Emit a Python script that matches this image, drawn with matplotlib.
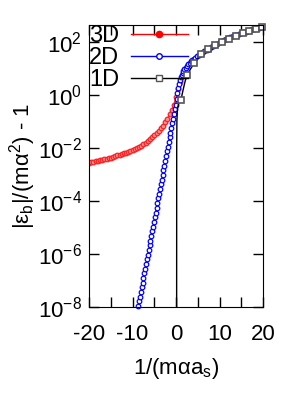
import numpy as np
import matplotlib
matplotlib.use('Agg')
import matplotlib.pyplot as plt

plt.rcParams['font.family'] = ['Liberation Sans', 'DejaVu Sans']
plt.rcParams['mathtext.fontset'] = 'custom'
plt.rcParams['mathtext.rm'] = 'Liberation Sans'
plt.rcParams['mathtext.it'] = 'Liberation Sans'
plt.rcParams['axes.unicode_minus'] = False

# 3D: x = 1/(m alpha a_s), values given as log10(|eb|/(m alpha^2) - 1)
x3d = np.arange(-20, 1.6, 0.5)
log3d = [-2.55, -2.53, -2.51, -2.49, -2.47, -2.45, -2.43, -2.41, -2.39, -2.37,
         -2.35, -2.325, -2.30, -2.27, -2.245, -2.22, -2.19, -2.16, -2.13, -2.10,
         -2.06, -2.02, -1.98, -1.94, -1.90, -1.85, -1.79, -1.72, -1.65, -1.58,
         -1.50, -1.42, -1.34, -1.25, -1.15, -1.02, -0.88, -0.72, -0.55, -0.35,
         -0.05, 0.25, 0.5, 0.72]

# 2D
x2d = [-8.7, -8.5, -8.3, -8.1, -7.9, -7.7, -7.5, -7.3, -7.1, -6.9, -6.7, -6.5,
       -6.3, -6.1, -5.9, -5.7, -5.5, -5.3, -5.1, -4.9, -4.7, -4.5, -4.3, -4.1,
       -3.9, -3.7, -3.5, -3.3, -3.1, -2.9, -2.7, -2.5, -2.3, -2.1, -1.9, -1.7,
       -1.5, -1.3, -1.1, -0.9, -0.7, -0.5, -0.3, -0.1,
       0.1, 0.3, 0.5, 0.7, 0.9, 1.1, 1.3, 1.5, 1.7, 1.9, 2.2, 2.5, 2.8, 3.1,
       3.4, 3.7, 4.0, 4.4, 4.8, 5.2, 5.6,
       6.0, 6.5, 7.0, 7.5, 8.0, 8.5, 9.0, 9.5, 10, 10.5, 11, 11.5, 12, 12.5,
       13, 13.5, 14, 14.5, 15, 15.5, 16, 16.5, 17, 17.5, 18, 18.5, 19, 19.5]
log2d = [-7.97, -7.79, -7.61, -7.43, -7.26, -7.08, -6.90, -6.73, -6.55, -6.37,
         -6.20, -6.02, -5.84, -5.66, -5.49, -5.31, -5.13, -4.96, -4.78, -4.60,
         -4.43, -4.25, -4.07, -3.89, -3.72, -3.54, -3.36, -3.19, -3.01, -2.83,
         -2.66, -2.48, -2.30, -2.12, -1.95, -1.77, -1.59, -1.42, -1.24, -1.06,
         -0.89, -0.71, -0.53, -0.35,
         -0.15, 0.08, 0.27, 0.44, 0.58, 0.69, 0.78, 0.86, 0.92, 0.98, 1.05,
         1.12, 1.18, 1.24, 1.29, 1.34, 1.38, 1.43, 1.48, 1.53, 1.57,
         1.60, 1.66, 1.72, 1.77, 1.82, 1.87, 1.92, 1.96, 2.01, 2.05, 2.09, 2.13,
         2.16, 2.20, 2.23, 2.27, 2.30, 2.33, 2.36, 2.38, 2.41, 2.44, 2.46, 2.49,
         2.51, 2.54, 2.56, 2.58]

# 1D: line and symbols
x1d_line = [0.12, 0.14, 0.18, 0.3, 0.6, 1.1, 1.6, 2.1, 2.6, 3.4, 4.2, 5.7, 7.4,
            9.0, 10.6, 12.1, 13.7, 15.3, 16.8, 18.3, 19.7, 20]
log1d_line = [-9, -2, -1, -0.5, -0.3, -0.18, 0.2, 0.55, 0.78, 1.02, 1.22, 1.56,
              1.75, 1.90, 2.03, 2.14, 2.25, 2.34, 2.43, 2.51, 2.58, 2.60]
x1d_pts = [1.1, 2.6, 4.2, 5.7, 7.4, 9.0, 10.6, 12.1, 13.7, 15.3, 16.8, 18.3, 19.7]
log1d_pts = [-0.18, 0.78, 1.22, 1.56, 1.75, 1.90, 2.03, 2.14, 2.25, 2.34, 2.43,
             2.51, 2.58]

fig = plt.figure(figsize=(3, 4), dpi=100)
ax = fig.add_axes([0.297, 0.2325, 0.58, 0.705])

ax.plot(x3d, 10.0 ** np.array(log3d), color='#ff2020', lw=1, marker='o', ms=3.3,
        mfc='#ff9090', mec='#ff2020', mew=0.9)
ax.plot(x2d, 10.0 ** np.array(log2d), color='blue', lw=0.8, marker='o', ms=3.3,
        mfc='white', mec='blue', mew=0.9, clip_on=False)
ax.plot(x1d_line, 10.0 ** np.array(log1d_line), color='black', lw=1)
ax.plot(x1d_pts, 10.0 ** np.array(log1d_pts), ls='none', marker='s', ms=5,
        mfc='white', mec='#555555', mew=1.2, clip_on=False)

# legend handles
h3, = ax.plot([], [], color='red', lw=1, marker='o', ms=4.5, mfc='red', mec='red')
h2, = ax.plot([], [], color='blue', lw=1, marker='o', ms=4, mfc='white', mec='blue')
h1, = ax.plot([], [], color='black', lw=1, marker='s', ms=5, mfc='white', mec='#555555')
ax.legend([h3, h2, h1], ['3D', '2D', '1D'], loc='upper left', frameon=False,
          markerfirst=False, fontsize=17, handlelength=2.4, handletextpad=0.5,
          labelspacing=0.0, borderaxespad=0.0, borderpad=0.0)

ax.set_yscale('log')
ax.set_xlim(-20, 20)
ax.set_ylim(1e-8, 10 ** 2.66)
ax.set_xticks([-20, -10, 0, 10, 20])
ax.set_xticks([-15, -5, 5, 15], minor=True)
ax.set_yticks([1e-8, 1e-6, 1e-4, 1e-2, 1, 1e2])
ax.set_yticklabels(['$\\mathregular{10^{-8}}$', '$\\mathregular{10^{-6}}$',
                    '$\\mathregular{10^{-4}}$', '$\\mathregular{10^{-2}}$',
                    '$\\mathregular{10^{0}}$', '$\\mathregular{10^{2}}$'])
ax.yaxis.set_minor_locator(matplotlib.ticker.NullLocator())
ax.tick_params(which='both', direction='in', top=True, right=True,
               labelsize=16, length=7, width=1, pad=5)
ax.tick_params(axis='x', which='both', pad=12)

ax.set_xlabel(r'$\mathregular{1/(m\alpha a_s)}$', fontsize=16, labelpad=8)
ax.set_ylabel(r'$\mathregular{|\varepsilon_b|/(m\alpha^2)}$ - 1', fontsize=16, labelpad=0)

plt.savefig('out.png', dpi=100)
